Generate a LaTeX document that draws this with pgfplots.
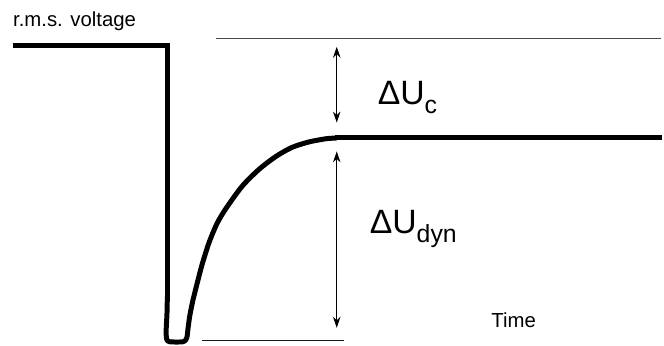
\documentclass[border=0pt]{standalone}
\usepackage{pgfplots}
\pgfplotsset{compat=1.18}
\usetikzlibrary{arrows.meta}
\usepackage{fontspec}
\setmainfont{Liberation Sans}

\newcommand{\bigtxt}[1]{\fontsize{34}{34}\selectfont #1}
\newcommand{\subtxt}[1]{\raisebox{-9bp}{\fontsize{25}{25}\selectfont #1}}

\begin{document}
\begin{tikzpicture}
\begin{axis}[
    scale only axis,
    width=664bp, height=347bp,
    xmin=0, xmax=664, ymin=0, ymax=347,
    hide axis,
    clip=false,
]
% keep the full frame as bounding box
\path (rel axis cs:0,0) rectangle (rel axis cs:1,1);

% reference levels
\addplot[color=black!72, line width=1.3bp] coordinates {(217,308.7) (663,308.7)};
\addplot[color=black!90, line width=1.3bp] coordinates {(203,5.3) (345,5.3)};

% voltage trace: pre-dip level and drop
\addplot[black, line width=5bp, line join=miter] coordinates {
    (13,301) (168,301) (168,45)
};
% dip and recovery
\addplot[black, line width=5bp, line join=round, smooth, tension=0.45] coordinates {
    (168,50) (167.6,32) (166.8,16) (167.2,7) (170,4) (184,4) (187.5,8)
    (188.8,18) (190.5,30) (193.5,45) (198,63) (203,82) (210,104)
    (218,123) (227,138) (243,160) (260,177) (277,190) (293,199)
    (310,204.5) (327,207.7) (338,208.5)
};
% new steady level
\addplot[black, line width=5bp] coordinates {(336,208.5) (664,208.5)};

% dimension arrows
\addplot[black, line width=1bp, {Stealth[length=11bp,width=7.5bp]}-{Stealth[length=11bp,width=7.5bp]}]
    coordinates {(338,300) (338,224)};
\addplot[black, line width=1bp, {Stealth[length=11bp,width=7.5bp]}-{Stealth[length=11bp,width=7.5bp]}]
    coordinates {(338,195) (338,18)};

% labels
\node[anchor=base west, inner sep=0] at (axis cs:13,320)
    {\fontsize{20.5}{20.5}\selectfont r.m.s. voltage};
\node[anchor=base west, inner sep=0] at (axis cs:379,242) {\bigtxt{ΔU}\subtxt{c}};
\node[anchor=base west, inner sep=0] at (axis cs:371,113) {\bigtxt{ΔU}\subtxt{dyn}};
\node[anchor=base west, inner sep=0] at (axis cs:493,18)
    {\fontsize{20.5}{20.5}\selectfont Time};
\end{axis}
\end{tikzpicture}
\end{document}
